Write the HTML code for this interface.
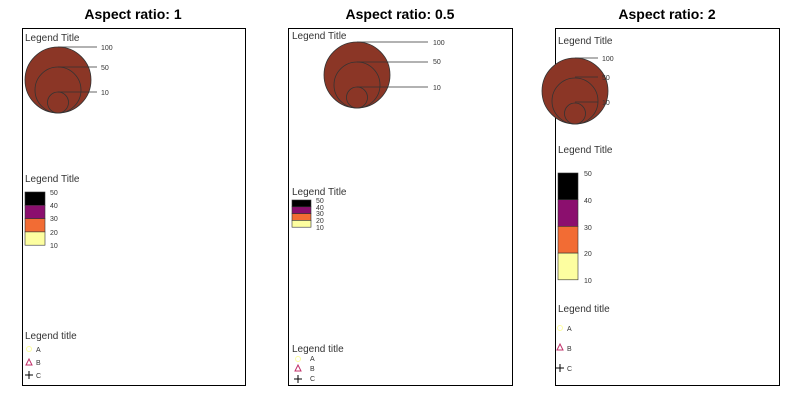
<!DOCTYPE html>
<html><head><style>body{margin:0;background:#fff}svg{display:block}</style></head><body>
<svg width="800" height="400" xmlns="http://www.w3.org/2000/svg" font-family="Liberation Sans, sans-serif">
<rect width="800" height="400" fill="#fff"/>
<g font-weight="bold" font-size="14" text-anchor="middle" fill="#000">
<text x="133" y="19">Aspect ratio: 1</text>
<text x="400" y="19">Aspect ratio: 0.5</text>
<text x="667" y="19">Aspect ratio: 2</text>
</g>
<g fill="none" stroke="#000" stroke-width="1">
<rect x="22.5" y="28.5" width="223" height="357"/>
<rect x="288.5" y="28.5" width="224" height="357"/>
<rect x="555.5" y="28.5" width="224" height="357"/>
</g>
<g font-size="10" fill="#333">
<!-- panel 1 -->
<text x="25" y="41">Legend Title</text>
<g stroke="#333" stroke-width="0.8" fill="#8b3626">
<circle cx="58" cy="80" r="33"/><circle cx="58" cy="90" r="23"/><circle cx="58" cy="102.5" r="10.5"/>
<line x1="58" y1="47" x2="97" y2="47"/><line x1="58" y1="67" x2="97" y2="67"/><line x1="58" y1="92" x2="97" y2="92"/>
</g>
<g font-size="7"><text x="101" y="50">100</text><text x="101" y="70">50</text><text x="101" y="95">10</text></g>
<text x="25" y="182">Legend Title</text>
<g stroke="#333" stroke-width="0.6">
<rect x="25" y="192" width="20" height="13.3" fill="#000"/>
<rect x="25" y="205.3" width="20" height="13.3" fill="#8b0f6e"/>
<rect x="25" y="218.6" width="20" height="13.3" fill="#f26c34"/>
<rect x="25" y="231.9" width="20" height="13.3" fill="#fdfea0"/>
</g>
<g font-size="7"><text x="50" y="195">50</text><text x="50" y="208">40</text><text x="50" y="221">30</text><text x="50" y="235">20</text><text x="50" y="248">10</text></g>
<text x="25" y="339">Legend title</text>
<circle cx="29" cy="349" r="2.5" fill="none" stroke="#fdfea0"/>
<path d="M29 359 L32 365 L26 365 Z" fill="none" stroke="#c0306a"/>
<path d="M25 375 H33 M29 371 V379" stroke="#000"/>
<g font-size="7"><text x="36" y="352">A</text><text x="36" y="365">B</text><text x="36" y="378">C</text></g>

<!-- panel 2 -->
<text x="292" y="39">Legend Title</text>
<g stroke="#333" stroke-width="0.8" fill="#8b3626">
<circle cx="357" cy="75" r="33"/><circle cx="357" cy="85" r="23"/><circle cx="357" cy="97.5" r="10.5"/>
<line x1="357" y1="42" x2="428" y2="42"/><line x1="357" y1="62" x2="428" y2="62"/><line x1="357" y1="87" x2="428" y2="87"/>
</g>
<g font-size="7"><text x="433" y="45">100</text><text x="433" y="64">50</text><text x="433" y="90">10</text></g>
<text x="292" y="195">Legend Title</text>
<g stroke="#333" stroke-width="0.6">
<rect x="292" y="200" width="19" height="6.8" fill="#000"/>
<rect x="292" y="206.8" width="19" height="6.8" fill="#8b0f6e"/>
<rect x="292" y="213.6" width="19" height="6.8" fill="#f26c34"/>
<rect x="292" y="220.4" width="19" height="6.8" fill="#fdfea0"/>
</g>
<g font-size="7"><text x="316" y="203">50</text><text x="316" y="210">40</text><text x="316" y="216">30</text><text x="316" y="223">20</text><text x="316" y="230">10</text></g>
<text x="292" y="352">Legend title</text>
<circle cx="298" cy="359" r="2.5" fill="none" stroke="#fdfea0"/>
<path d="M298 365 L301 371 L295 371 Z" fill="none" stroke="#c0306a"/>
<path d="M294 379 H302 M298 375 V383" stroke="#000"/>
<g font-size="7"><text x="310" y="361">A</text><text x="310" y="371">B</text><text x="310" y="381">C</text></g>

<!-- panel 3 -->
<text x="558" y="44">Legend Title</text>
<g stroke="#333" stroke-width="0.8" fill="#8b3626">
<circle cx="575" cy="91" r="33"/><circle cx="575" cy="101" r="23"/><circle cx="575" cy="113.5" r="10.5"/>
<line x1="575" y1="58" x2="598" y2="58"/><line x1="575" y1="77" x2="598" y2="77"/><line x1="575" y1="102" x2="598" y2="102"/>
</g>
<g font-size="7"><text x="602" y="61">100</text><text x="602" y="80">50</text><text x="602" y="105">10</text></g>
<text x="558" y="153">Legend Title</text>
<g stroke="#333" stroke-width="0.6">
<rect x="558" y="173" width="20" height="26.7" fill="#000"/>
<rect x="558" y="199.7" width="20" height="26.7" fill="#8b0f6e"/>
<rect x="558" y="226.4" width="20" height="26.7" fill="#f26c34"/>
<rect x="558" y="253.1" width="20" height="26.7" fill="#fdfea0"/>
</g>
<g font-size="7"><text x="584" y="176">50</text><text x="584" y="203">40</text><text x="584" y="230">30</text><text x="584" y="256">20</text><text x="584" y="283">10</text></g>
<text x="558" y="312">Legend title</text>
<circle cx="560" cy="328" r="2.5" fill="none" stroke="#fdfea0"/>
<path d="M560 344 L563 350 L557 350 Z" fill="none" stroke="#c0306a"/>
<path d="M556 368 H564 M560 364 V372" stroke="#000"/>
<g font-size="7"><text x="567" y="331">A</text><text x="567" y="351">B</text><text x="567" y="371">C</text></g>
</g>
</svg>
</body></html>
